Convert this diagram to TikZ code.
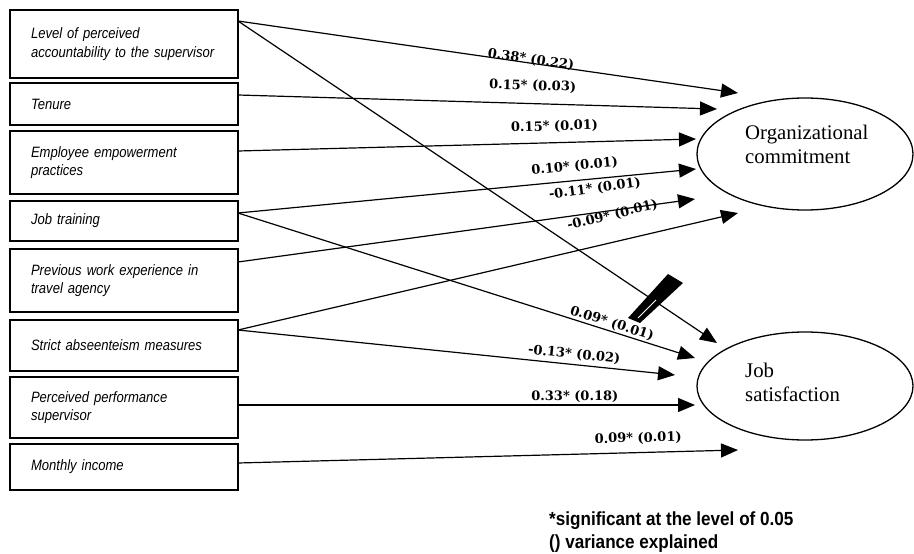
\documentclass[tikz,border=0pt]{standalone}
\usepackage{fontspec}
\setmainfont{Liberation Serif}
\newfontfamily\boxfont[FakeStretch=0.87]{Liberation Sans}
\newfontfamily\notefont[FakeStretch=0.9]{Liberation Sans}
\newfontfamily\coeffont{DejaVu Serif}
\usetikzlibrary{shapes.geometric, arrows.meta, positioning}
\tikzstyle{factor} = [rectangle, draw=black, line width=1.6pt, outer sep=0pt, text width=186pt, inner xsep=21pt, align=left, font=\boxfont\itshape\fontsize{15pt}{18.5pt}\selectfont]
\tikzstyle{outcome} = [ellipse, draw=black, line width=1.3pt, minimum width=216pt, minimum height=112pt]
\tikzstyle{outtext} = [anchor=west, align=left, inner sep=0pt, font=\fontsize{20.8pt}{24pt}\selectfont]
\tikzstyle{coef} = [sloped, inner sep=0pt, font=\coeffont\bfseries\fontsize{13pt}{15pt}\selectfont]
\tikzstyle{arrow} = [line width=1.2pt, -{Triangle[length=17pt,width=14pt]}]

\begin{document}
\begin{tikzpicture}[x=1pt, y=-1pt]
\useasboundingbox (0,0) rectangle (914,554);

\node (acc) [factor, minimum height=68pt, anchor=north west] at (10,10) {Level of perceived\\accountability to the supervisor};
\node (tenure) [factor, minimum height=42pt, below=5pt of acc] {Tenure};
\node (empower) [factor, minimum height=63pt, below=6pt of tenure] {Employee empowerment\\practices};
\node (training) [factor, minimum height=40pt, below=7pt of empower] {Job training};
\node (experience) [factor, minimum height=63pt, below=8pt of training] {Previous work experience in\\travel agency};
\node (absence) [factor, minimum height=51pt, below=8pt of experience] {Strict abseenteism measures};
\node (perform) [factor, minimum height=61pt, below=6pt of absence] {Perceived performance\\supervisor};
\node (income) [factor, minimum height=46pt, below=6pt of perform] {Monthly income};

\node (commit) [outcome] at (805,154) {};
\node (commitlabel) [outtext] at (745,144) {Organizational\\commitment};
\node (satisf) [outcome, minimum height=108pt] at (805,386) {};
\node (satisflabel) [outtext] at (745,382) {Job\\satisfaction};

% arrow tips next to the two outcomes
\coordinate (toc1) at (738,93);
\coordinate (toc2) at (717,109);
\coordinate (toc3) at (696,139);
\coordinate (toc4) at (696,169);
\coordinate (toc5) at (695,199);
\coordinate (toc6) at (738,213);
\coordinate (tjs1) at (717,343);
\coordinate (tjs2) at (695,358);
\coordinate (tjs3) at (675,375);
\coordinate (tjs4) at (695,405);
\coordinate (tjs5) at (738,450);

\draw [arrow] ([yshift=-11pt]acc.north east) -- (toc1) node[coef, pos=0.585, above=-3pt] {0.38* (0.22)};
\draw [arrow] ([yshift=-11pt]acc.north east) -- (tjs1);
\draw [arrow] ([yshift=9pt]tenure.east) -- (toc2) node[coef, pos=0.614, above=11pt] {0.15* (0.03)};
\draw [arrow] ([yshift=11.5pt]empower.east) -- (toc3) node[coef, pos=0.692, above=9.6pt] {0.15* (0.01)};
\draw [arrow] ([yshift=8pt]training.east) -- (toc4) node[coef, pos=0.738, above=7.7pt] {0.10* (0.01)};
\draw [arrow] ([yshift=8pt]training.east) -- (tjs2) node[coef, pos=0.813, above=1.2pt] {0.09* (0.01)};
\draw [arrow] ([yshift=18.5pt]experience.east) -- (toc5) node[coef, pos=0.788, above=17.4pt] {-0.11* (0.01)};
\draw [arrow] ([yshift=15.5pt]absence.east) -- (toc6) node[coef, pos=0.761, above=20pt] {-0.09* (0.01)};
\draw [arrow] ([yshift=15.5pt]absence.east) -- (tjs3) node[coef, pos=0.767, above=3.2pt] {-0.13* (0.02)};
\draw [arrow] ([yshift=2.5pt]perform.east) -- (tjs4) node[coef, pos=0.737, above=2pt] {0.33* (0.18)};
\draw [arrow] ([yshift=4pt]income.east) -- (tjs5) node[coef, pos=0.801, above=7.8pt] {0.09* (0.01)};

% smudge over the long diagonal
\fill (628,318) -- (668,274) -- (683,283) -- (640,323) -- cycle;
\draw [white, line width=0.8pt] (638,318) -- (656,300);

\node (note) [anchor=west, align=left, inner sep=0pt, font=\notefont\bfseries\fontsize{19pt}{23pt}\selectfont] at (549,532) {*significant at the level of 0.05\\() variance explained};

\end{tikzpicture}
\end{document}
